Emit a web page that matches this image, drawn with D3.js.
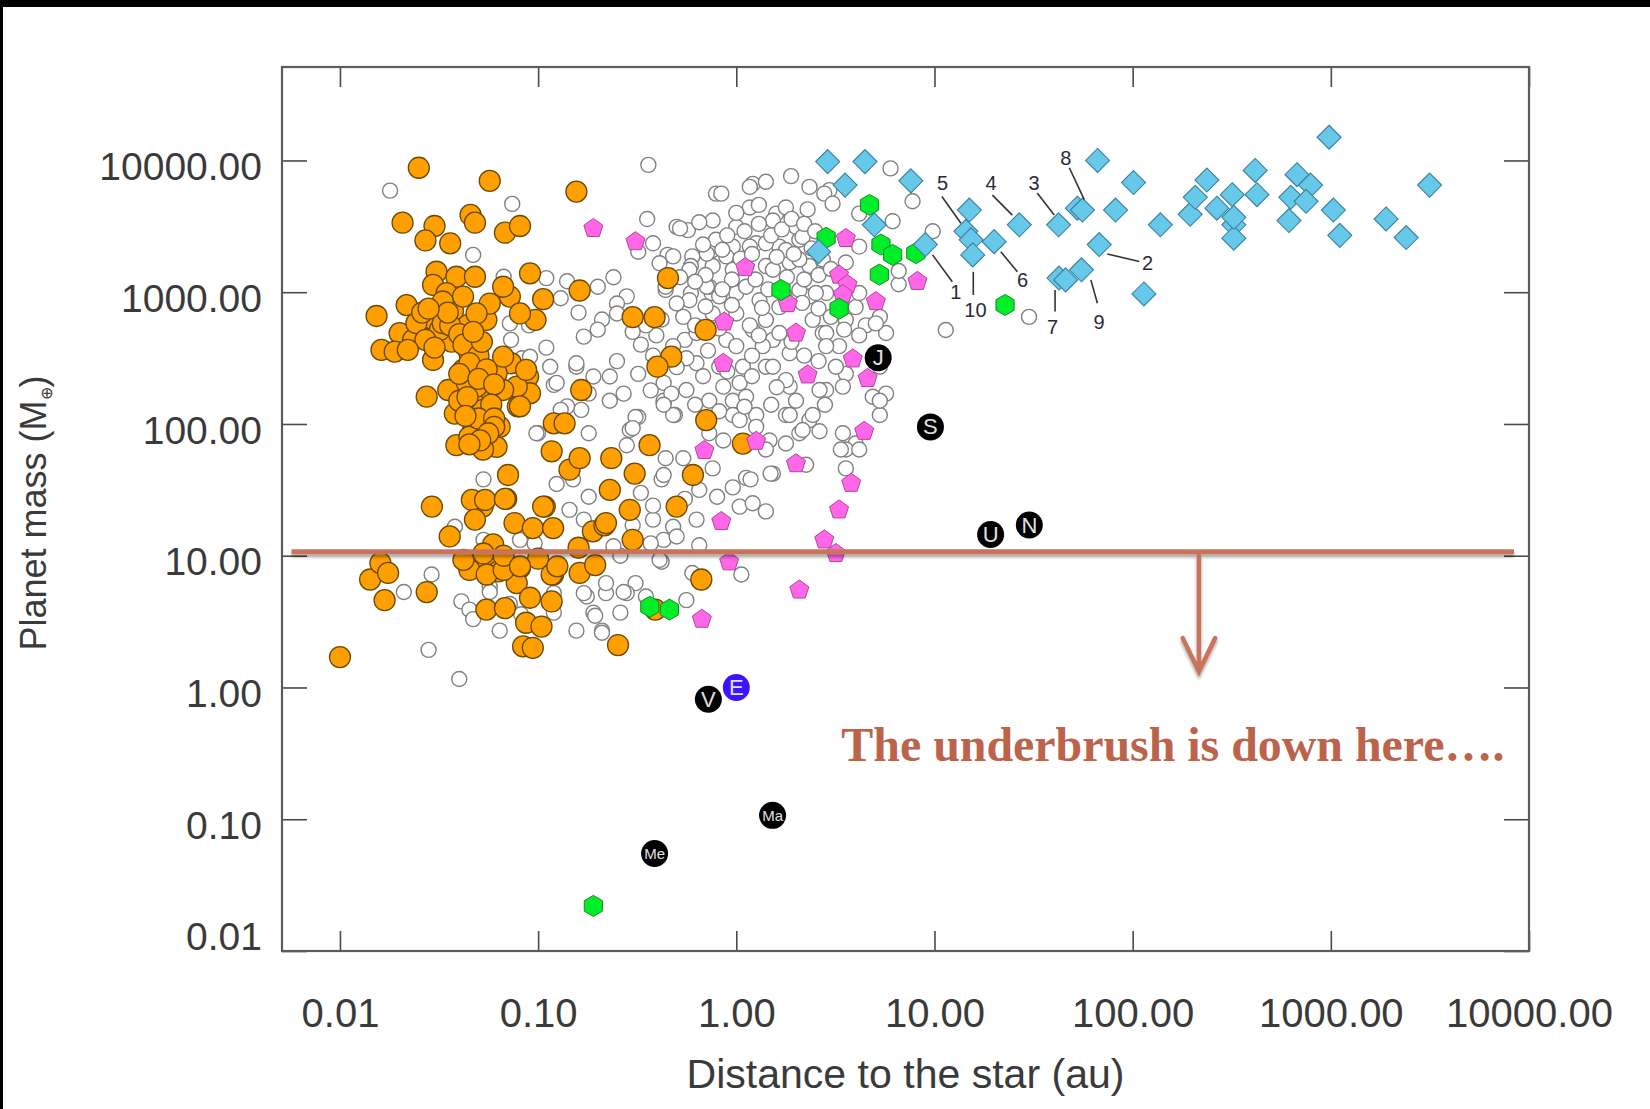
<!DOCTYPE html>
<html><head><meta charset="utf-8">
<script src="https://cdn.jsdelivr.net/npm/d3@7"></script>
<style>body{margin:0;background:#fff;}svg{display:block;}</style>
</head><body>
<svg id="c" width="1650" height="1109"></svg>
<script>
// ---------- data ----------
const xTicks = [0.01, 0.1, 1, 10, 100, 1000, 10000];
const yTicks = [0.01, 0.1, 1, 10, 100, 1000, 10000];
const xTitle = "Distance to the star (au)";
const yTitleMain = "Planet mass (M";
const yTitleSub = "⊕";
const annotationText = "The underbrush is down here….";

// white open circles [au, Earth masses]
const whitePlanets = [
[0.36,9250],[0.0179,5900],[0.074,4680],[0.355,3590],[0.79,5600],[0.50,3130],[0.57,2960],[0.32,2030],[0.45,1920],[0.60,1870],[0.76,2090],[0.047,1920],[0.59,1580],[0.76,1580],[0.44,1040],[0.59,985],[0.75,985],[0.11,1280],[0.14,1210],[0.28,930],[0.25,820],[0.21,620],[0.25,690],[0.33,400],[0.11,380],[0.073,435],[0.083,315],[0.115,272],[0.156,272],[0.19,229],[0.23,229],[0.12,198],[0.32,240],[0.43,205],[0.56,181],[0.63,289],[0.55,435],[0.23,150],[0.43,146],[0.49,117],[0.165,128],[0.14,136],[0.32,113],[0.10,85],[0.29,90],[0.18,85],[0.73,85],
[0.84,5600],[1.21,6640],[1.41,6900],[1.89,7600],[1.17,4400],[1.59,3950],[2.34,6300],[2.95,5950],[6.0,8700],[7.75,4900],[6.15,3460],[9.8,2900],[11.4,517],[30,650],[6.6,1150],[0.76,3500],[1.0,3130],[0.96,2220],[1.26,2350],[1.65,2220],[2.08,2500],[2.34,1580],[1.86,1680],[1.41,1580],[4.17,3950],[3.57,1680],[4.17,2220],[6.6,1450],[0.73,1100],[1.0,985],[1.31,870],[2.34,927],[2.84,985],[4.0,770],[5.3,650],[4.5,560],[0.89,435],[1.21,517],[1.53,435],[2.73,490],[3.3,390],[5.7,490],[5.3,272],[3.57,240],[2.84,181],[1.86,192],[1.41,272],[1.04,205],[0.82,272],[0.73,150],[0.96,150],[1.26,117],[1.78,117],[2.34,107],[3.45,85],[5.3,117],[5.7,170],[2.08,85],[1.47,75],[4.0,71],
[0.52,3050],[1.17,6300],[2.78,5600],[1.78,4400],[2.29,4250],[3.06,4700],[1.53,3500],[2.0,3130],[0.79,2500],[0.71,1960],[0.89,1870],[1.17,2220],[1.41,2350],[1.78,2090],[2.16,2630],[0.48,1870],[0.58,1480],[0.38,2350],[0.41,1660],[0.96,1480],[1.53,1480],[2.08,1770],[2.73,1770],[0.71,1100],[0.82,930],[1.12,1100],[1.65,770],[2.08,1040],[2.52,985],[4.17,985],[0.44,1100],[0.58,870],[0.54,650],[0.76,690],[1.0,690],[1.17,560],[1.41,617],[1.65,490],[2.43,617],[2.84,490],[3.57,617],[4.17,470],[5.06,580],[0.395,470],[0.48,390],[0.56,315],[0.63,490],[1.0,390],[1.08,272],[1.36,390],[1.53,272],[1.86,344],[2.84,390],[3.18,272],[1.78,215],[2.63,181],[3.45,192],[4.88,161],[0.43,150],[0.86,192],[1.12,161],[0.48,117],[0.96,117],[1.26,95],[1.86,117],[2.43,117],[0.86,75],[1.41,64],[1.78,71],[3.57,64],
[0.47,170],[0.43,140],[0.31,113],[0.30,93],[0.28,69],[0.44,55],[0.54,55],[0.42,38],[0.76,46],[0.65,31.6],[1.04,107],[2.16,90],[2.63,88],[3.37,64],[4.17,64],[3.57,46],[5.3,150],[2.25,49],[1.53,42],[1.12,39],[0.96,33],[1.04,23.6],[1.21,25],[1.41,21.7],[0.63,18.8],[0.48,16.6],[0.38,18.8],[0.43,13.2],[0.37,12.4],[0.42,9.0],[0.26,10],[0.24,11.8],[0.60,7.4],[0.56,4.6],[1.06,7.2],[0.31,6.2],[0.28,5.2],[0.22,5.2],[0.176,4.9],[0.35,4.9],[0.19,3.7],[0.26,3.7],[0.21,2.7],[0.156,2.7],[0.12,3.7],[0.064,2.7],[0.057,5.8],[0.082,3.6],[0.053,38],[0.124,35],[0.15,38],[0.18,28],[0.144,22.3],[0.17,18.8],
[0.029,7.2],[0.021,5.3],[0.028,1.93],[0.04,1.16],[0.041,4.5],[0.045,3.9],[0.057,5.3],[0.21,2.6],[0.194,3.5],[0.22,6.2],[0.27,5.3],[0.17,5.2],[0.41,9.3],[0.081,13.2],[0.096,12.4],[0.038,16.6],[0.053,13.2],[0.43,41],[1.49,42],[1.18,38],
[0.156,289],[0.124,205],[0.13,128],[0.098,85],[0.067,1310],[0.072,580],[0.091,324],[0.047,3.3],[0.072,4.3],[0.12,5.2],
[0.65,3400],[0.9,2700],[1.1,2900],[1.3,3300],[1.5,2700],[1.7,3000],[1.9,3600],[2.2,3300],[2.5,2900],[1.0,4000],[1.3,4600],[0.68,2300],[0.85,2100],[1.05,1800],[1.2,1950],[1.6,1850],[1.95,1950],[2.4,2150],[2.6,1350],[3.0,1500],[2.2,1250],[1.8,1300],[1.25,1250],[0.95,1250],[0.7,1350],[0.52,1300],[0.62,1200],[0.85,1050],[1.45,1050],[1.75,950],[2.15,830],[2.6,750],[3.0,650],[3.5,520],[1.35,760],[0.95,800],[0.7,780],[0.5,820],
[0.35,560],[0.42,620],[0.62,560],[0.82,530],[1.3,470],[1.9,420],[2.2,330],[2.6,300],[1.2,330],[0.72,360],[0.38,330],[0.5,270],[0.68,230],[0.9,250],[1.2,230],[1.6,190],[2.0,150],[2.8,140],[0.62,140],[0.82,125],[1.1,135],[1.5,140],[0.37,180],[0.27,170],[0.25,300],[0.18,170],[0.2,520],[0.3,500],[0.17,460],
[0.33,30],[0.38,24],[0.55,27],[0.8,28],[0.5,14],[0.65,12],[0.3,17],[0.09,560],[0.16,700],[0.13,900],[0.2,1100],[0.24,1300]
];

// orange filled circles
const orangePlanets = [
[0.025,8800],[0.057,7000],[0.156,5800],[0.0207,3370],[0.030,3180],[0.027,2470],[0.036,2350],[0.0456,3860],[0.048,3370],[0.068,2830],[0.081,3180],[0.452,1280],[0.162,1030],[0.091,1390],[0.106,885],[0.0153,660],[0.30,646],[0.387,646],[0.70,517],[0.097,617],[0.0162,365],[0.47,324],[0.40,272],[0.165,181],[0.705,107],[0.0274,161],[0.12,101],[0.136,101],
[0.0217,798],[0.020,489],[0.0189,354],[0.0234,435],[0.0284,635],[0.0307,1430],[0.0295,1135],[0.0387,1310],[0.048,1310],[0.0372,721],[0.0443,565],[0.0548,617],[0.0366,422],[0.0295,306],[0.0418,257],[0.0352,181],[0.0508,161],[0.057,181],[0.038,120],[0.073,289],[0.089,229],[0.079,136],[0.091,171],[0.0387,69],[0.0548,78],[0.047,90],[0.0617,67],[0.0705,41],[0.072,927],[0.0666,1100],[0.081,690],[0.117,62],[0.144,45],[0.162,55],[0.0243,582],[0.0319,517],[0.045,344],[0.0489,192],[0.0527,128],[0.0617,243],[0.064,95],[0.045,80],[0.0527,64],[0.0345,984],[0.0418,927],[0.057,820],[0.0489,690],[0.033,582],[0.027,435],[0.022,365],[0.0666,324],[0.078,192],[0.087,257],[0.0437,205],[0.040,150],[0.0666,181],
[0.026,700],[0.033,850],[0.036,560],[0.04,480],[0.042,400],[0.05,330],[0.045,290],[0.04,240],[0.055,260],[0.05,220],[0.06,200],[0.044,160],[0.058,140],[0.05,110],[0.043,115],[0.06,110],[0.035,700],[0.03,380],[0.028,750],[0.052,420],[0.047,500],[0.06,95],[0.056,85],[0.051,75],[0.045,70],
[0.081,136],[0.234,55],[0.365,69],[0.307,42],[0.604,41],[1.08,71],[0.23,31.6],[0.069,27],[0.108,23.6],[0.50,23.6],[0.29,22.3],[0.076,17.7],[0.094,16.2],[0.119,16.2],[0.189,15.3],[0.216,17],[0.30,13.2],[0.0593,12.2],[0.0525,23.6],[0.055,8.3],[0.063,7.6],[0.081,8.1],[0.10,9.5],[0.119,7.2],[0.162,7.4],[0.194,8.5],[0.078,6.2],[0.091,4.8],[0.117,4.5],[0.0548,3.9],[0.068,4.0],[0.087,3.1],[0.104,2.9],[0.084,2.05],[0.094,2.0],[0.253,2.1],[0.666,6.6],[0.39,3.9],
[0.010,1.7],[0.0142,6.6],[0.016,8.8],[0.0175,7.4],[0.0168,4.6],[0.0274,5.3],[0.0291,23.6],[0.0358,14],[0.0463,26.5],[0.054,26.5],[0.048,18.8],[0.068,27],[0.106,23.6],[0.045,7.8],[0.055,7.2],[0.067,7.8],[0.117,7.2],[0.042,9.3],[0.053,10.4],[0.125,8.3],[0.067,10],[0.081,8.3],[0.16,11.5],[0.22,17.7]
];

// pink pentagons
const pinkPlanets = [
[0.19,3050],[0.31,2420],[1.11,1540],[3.57,2560],[3.3,1350],[3.64,1140],[3.45,960],[1.82,820],[5.06,850],[8.2,1210],[0.87,595],[2.0,490],[3.87,312],[0.86,289],[2.29,236],[4.6,222],[4.42,88],[1.26,74],[0.69,63],[2.0,50],[3.8,35.5],[0.84,18.2],[3.3,22.3],[2.78,13.2],[3.18,10.4],[0.92,9.0],[2.08,5.5],[0.67,3.3]
];

// green hexagons
const greenPlanets = [
[4.7,4600],[2.84,2590],[5.37,2300],[6.15,1920],[8.05,1980],[5.27,1360],[1.68,1040],[3.3,750],[22.7,800],[0.366,4.1],[0.46,3.9],[0.19,0.022]
];

// blue diamonds
const bluePlanets = [
[2.89,9800],[4.46,9800],[7.6,7000],[3.54,6500],[4.97,3250],[2.6,2030],[9.0,2300],[15.0,4200],[14.4,2900],[15.3,2500],[15.6,1920],[20.0,2420],[26.8,3250],[42.3,3250],[52.6,4340],[55.8,4200],[66.5,10000],[82,4200],[101,6800],[67.8,2300],[42.5,1280],[45.9,1240],[55.2,1480],[114,970],[980,15000],[138,3250],[195,3900],[207,5250],[237,7100],[266,4340],[318,5500],[324,3250],[324,2570],[324,3700],[415,8400],[424,5500],[615,3500],[628,5250],[675,7800],[790,6500],[750,4900],[1030,4200],[1110,2700],[1900,3600],[2400,2600],[3150,6500]
];

// solar system
const solarNames = ["Me","V","E","Ma","J","S","U","N"];
const solarAu    = [0.387,0.723,1.0,1.524,5.2,9.54,19.2,30.1];
const solarMass  = [0.055,0.815,1.0,0.107,318,95,14.5,17.1];

// numbered labels and their leader lines [au1, m1, au2, m2]
const labelNums = ["1","2","3","4","5","6","7","8","9","10"];
const labelAu   = [12.8,119,31.8,19.3,11.0,27.8,39.4,46,67.7,16.1];
const labelMass = [1010,1660,6700,6700,6700,1240,548,10400,598,734];
const leaders = [
[9.78,1920,12.3,1200],[74.5,1950,108,1710],[33,5670,40.2,3850],[19.6,5460,24.7,3850],[10.9,5320,13.6,3340],
[21.6,2030,26.2,1430],[40.6,1040,40.6,713],[47.9,8800,57,5050],[61.5,1240,66.4,825],[15.7,1430,15.7,953]
];

// annotation (data space)
const threshMass = 10.7, threshFrom = 0.0057, threshTo = 8400;
const arrowAu = 216, arrowTip = 1.32, arrowArm = [179, 2.37, 261];
const noteAu = 3.39, noteMass = 0.278;

// ---------- drawing ----------
const W = 1650, H = 1109;
const M = {l:282, r:1529, t:67, b:951};
const svg = d3.select("#c");
const FONT = "'Liberation Sans', Arial, Helvetica, sans-serif";

const defs = svg.append("defs");
const f = defs.append("filter").attr("id","sh").attr("x","-5%").attr("y","-200%").attr("width","110%").attr("height","500%");
f.append("feDropShadow").attr("dx",0).attr("dy",3).attr("stdDeviation",1.6).attr("flood-color","#000").attr("flood-opacity",0.35);

svg.append("rect").attr("width",W).attr("height",H).attr("fill","#fff");

const x = d3.scaleLog().domain([0.0051, 10000]).range([M.l, M.r]);
const y = d3.scaleLog().domain([0.01, 51200]).range([M.b, M.t]);
const fmt = d3.format(".2f");

function styleAxis(g){
  g.select(".domain").remove();
  g.attr("font-family", FONT).attr("font-size", 40);
  g.selectAll(".tick line").attr("stroke","#4a4a4a").attr("stroke-width",1.6);
  g.selectAll(".tick text").attr("fill","#3a3a3a");
}
const gx = svg.append("g").attr("transform",`translate(0,${M.b})`)
  .call(d3.axisBottom(x).tickValues(xTicks).tickFormat(fmt).tickSizeInner(-20).tickSizeOuter(0).tickPadding(47.6));
styleAxis(gx);
const gxt = svg.append("g").attr("transform",`translate(0,${M.t})`)
  .call(d3.axisTop(x).tickValues(xTicks).tickFormat(()=>"").tickSizeInner(-20).tickSizeOuter(0));
styleAxis(gxt);
const gy = svg.append("g").attr("transform",`translate(${M.l},0)`)
  .call(d3.axisLeft(y).tickValues(yTicks).tickFormat(fmt).tickSizeInner(-25).tickSizeOuter(0).tickPadding(20));
styleAxis(gy);
gy.attr("font-size",39);
gy.selectAll(".tick text").attr("dy", d => d === 0.01 ? "-0.03em" : "0.49em");
const gyr = svg.append("g").attr("transform",`translate(${M.r},0)`)
  .call(d3.axisRight(y).tickValues(yTicks).tickFormat(()=>"").tickSizeInner(-25).tickSizeOuter(0));
styleAxis(gyr);

// frame
svg.append("rect").attr("x",M.l).attr("y",M.t).attr("width",M.r-M.l).attr("height",M.b-M.t)
  .attr("fill","none").attr("stroke","#5c5c5c").attr("stroke-width",2.2);

// titles
svg.append("text").attr("x",(M.l+M.r)/2).attr("y",1088).attr("text-anchor","middle")
  .attr("font-family",FONT).attr("font-size",40).attr("fill","#3a3a3a")
  .attr("textLength",438).attr("lengthAdjust","spacingAndGlyphs").text(xTitle);
const yt = svg.append("text").attr("transform","translate(46,513) rotate(-90)").attr("text-anchor","middle")
  .attr("font-family",FONT).attr("font-size",36).attr("fill","#3a3a3a");
yt.append("tspan").text(yTitleMain);
yt.append("tspan").attr("font-size",16).attr("dy",6).text(yTitleSub);
yt.append("tspan").attr("dy",-6).text(")");

// shapes
function poly(n, r, rot){
  return "M" + d3.range(n).map(k => {
    const a = rot + k * 2 * Math.PI / n;
    return [ (r*Math.cos(a)).toFixed(2), (r*Math.sin(a)).toFixed(2) ];
  }).join("L") + "Z";
}
const pentPath = poly(5, 10, -Math.PI/2);
const hexPath = poly(6, 10.5, -Math.PI/2);
const diaPath = poly(4, 12, -Math.PI/2);

const plot = svg.append("g");
plot.append("g").selectAll("circle").data(whitePlanets).join("circle")
  .attr("cx", d => x(d[0])).attr("cy", d => y(d[1])).attr("r", 7.5)
  .attr("fill","#fff").attr("stroke","#808080").attr("stroke-width",1.4);
plot.append("g").selectAll("circle").data(orangePlanets).join("circle")
  .attr("cx", d => x(d[0])).attr("cy", d => y(d[1])).attr("r", 10.5)
  .attr("fill","#ff9f00").attr("stroke","#6b4a05").attr("stroke-width",1.3);
plot.append("g").selectAll("path").data(pinkPlanets).join("path")
  .attr("transform", d => `translate(${x(d[0])},${y(d[1])})`).attr("d", pentPath)
  .attr("fill","#ff66e8").attr("stroke","#b2449f").attr("stroke-width",1);
plot.append("g").selectAll("path").data(greenPlanets).join("path")
  .attr("transform", d => `translate(${x(d[0])},${y(d[1])})`).attr("d", hexPath)
  .attr("fill","#00ee2a").attr("stroke","#1b8a1b").attr("stroke-width",1);
plot.append("g").selectAll("path").data(bluePlanets).join("path")
  .attr("transform", d => `translate(${x(d[0])},${y(d[1])})`).attr("d", diaPath)
  .attr("fill","#66c9e9").attr("stroke","#3b7f9c").attr("stroke-width",1.1);

// leader lines + labels
plot.append("g").selectAll("line").data(leaders).join("line")
  .attr("x1", d => x(d[0])).attr("y1", d => y(d[1])).attr("x2", d => x(d[2])).attr("y2", d => y(d[3]))
  .attr("stroke","#333").attr("stroke-width",1.6);
plot.append("g").selectAll("text").data(labelNums).join("text")
  .attr("x", (d,i) => x(labelAu[i])).attr("y", (d,i) => y(labelMass[i]))
  .attr("text-anchor","middle").attr("dominant-baseline","central")
  .attr("font-family",FONT).attr("font-size",20).attr("fill","#2a2a3a").text(d => d);

// solar system
const sol = plot.append("g").selectAll("g").data(solarNames).join("g")
  .attr("transform", (d,i) => `translate(${x(solarAu[i])},${y(solarMass[i])})`);
sol.append("circle").attr("r",13.5).attr("fill", d => d === "E" ? "#3c14ff" : "#000");
sol.append("text").attr("text-anchor","middle").attr("dominant-baseline","central")
  .attr("font-family",FONT).attr("font-size", d => d.length > 1 ? 15 : 22)
  .attr("fill","#e0e0e0").text(d => d);

// annotation
const ann = svg.append("g").attr("filter","url(#sh)");
ann.append("line").attr("x1",x(threshFrom)).attr("x2",x(threshTo)).attr("y1",y(threshMass)).attr("y2",y(threshMass))
  .attr("stroke","#c8735c").attr("stroke-width",5);
ann.append("line").attr("x1",x(arrowAu)).attr("x2",x(arrowAu)).attr("y1",y(threshMass)).attr("y2",y(arrowTip))
  .attr("stroke","#c8735c").attr("stroke-width",4.5);
ann.append("polyline")
  .attr("points", [[x(arrowArm[0]),y(arrowArm[1])],[x(arrowAu),y(arrowTip)],[x(arrowArm[2]),y(arrowArm[1])]].map(p=>p.join(",")).join(" "))
  .attr("fill","none").attr("stroke","#c8735c").attr("stroke-width",4.5).attr("stroke-linecap","round");
svg.append("text").attr("x",x(noteAu)).attr("y",y(noteMass))
  .attr("font-family","'Liberation Serif','Times New Roman',serif").attr("font-weight","bold").attr("font-size",48)
  .attr("fill","#bb644b").attr("textLength",663).attr("lengthAdjust","spacingAndGlyphs").text(annotationText);

// black border strips of the slide
svg.append("rect").attr("x",0).attr("y",0).attr("width",W).attr("height",7).attr("fill","#000");
svg.append("rect").attr("x",0).attr("y",0).attr("width",3).attr("height",H).attr("fill","#000");
</script>
</body></html>
